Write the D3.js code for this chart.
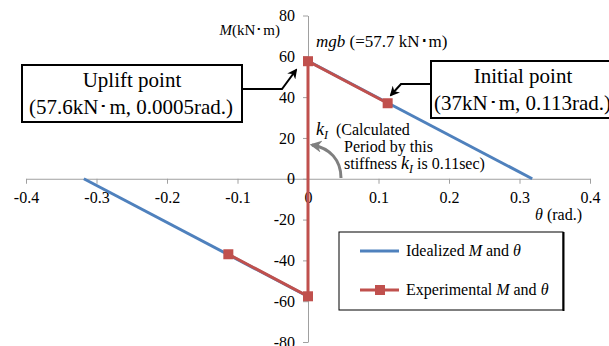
<html>
<head>
	<meta charset="UTF-8">
	<title>M - theta</title>
</head>
<body style="margin:0">
	<script src="https://cdnjs.cloudflare.com/ajax/libs/d3/7.8.5/d3.min.js"></script>
	<script>
		// data
		var xTicks = [-0.4, -0.3, -0.2, -0.1, 0, 0.1, 0.2, 0.3, 0.4];
		var yTicks = [-80, -60, -40, -20, 0, 20, 40, 60, 80];
		var idealTheta = [-0.318, 0, 0, 0.318];
		var idealM = [0, -57.7, 57.7, 0];
		var expTheta = [-0.113, 0, 0, 0.113];
		var expM = [-37, -57.6, 57.6, 37];

		var width = 609, height = 346;
		var FONT = "Liberation Serif";

		var x = d3.scaleLinear().domain([-0.4, 0.4]).range([26, 590]);
		var y = d3.scaleLinear().domain([-80, 80]).range([342, 15.5]);

		var svg = d3.select("body").append("svg")
			.attr("width", width)
			.attr("height", height);

		var defs = svg.append("defs");
		defs.append("marker")
			.attr("id", "blackHead")
			.attr("viewBox", "0 0 10 10")
			.attr("refX", 8).attr("refY", 5)
			.attr("markerWidth", 5).attr("markerHeight", 5)
			.attr("orient", "auto")
			.append("path")
				.attr("d", "M0,0 L10,5 L0,10 L3,5 Z")
				.attr("fill", "#000");
		defs.append("marker")
			.attr("id", "grayHead")
			.attr("viewBox", "0 0 10 10")
			.attr("refX", 8).attr("refY", 5)
			.attr("markerWidth", 4).attr("markerHeight", 4)
			.attr("orient", "auto")
			.append("path")
				.attr("d", "M0,0 L10,5 L0,10 L3,5 Z")
				.attr("fill", "#7f7f7f");

		function fmt(d) { return String(d); }	// plain hyphen minus like the original

		// axes crossing at zero
		var xAxis = svg.append("g")
			.attr("transform", "translate(0," + y(0) + ")")
			.call(d3.axisBottom(x).tickValues(xTicks).tickSize(5).tickSizeOuter(0).tickFormat(fmt));
		xAxis.select(".domain").attr("stroke", "#a0a0a0");
		xAxis.selectAll(".tick line").attr("stroke", "#a0a0a0");
		xAxis.selectAll(".tick text").attr("y", 13);

		var yAxis = svg.append("g")
			.attr("transform", "translate(" + x(0) + ",0)")
			.call(d3.axisLeft(y).tickValues(yTicks).tickSize(5).tickSizeOuter(0).tickFormat(fmt));
		yAxis.select(".domain").attr("stroke", "#a0a0a0");
		yAxis.selectAll(".tick line").attr("stroke", "#a0a0a0");
		yAxis.selectAll(".tick text").attr("x", -13);
		svg.selectAll(".tick text")
			.attr("font-family", FONT).attr("font-size", 16).attr("fill", "#000");

		// series
		var ideal = idealTheta.map(function(t, i) { return [t, idealM[i]]; });
		var exp = expTheta.map(function(t, i) { return [t, expM[i]]; });
		var line = d3.line().x(function(d) { return x(d[0]); }).y(function(d) { return y(d[1]); });

		svg.append("path").datum(ideal.slice(0, 2))
			.attr("d", line).attr("fill", "none").attr("stroke", "#4f81bd").attr("stroke-width", 3);
		svg.append("path").datum(ideal.slice(2))
			.attr("d", line).attr("fill", "none").attr("stroke", "#4f81bd").attr("stroke-width", 3);

		svg.append("path").datum(exp)
			.attr("d", line).attr("fill", "none").attr("stroke", "#c0504d").attr("stroke-width", 3);
		svg.selectAll(".mk").data(exp).enter().append("rect")
			.attr("class", "mk")
			.attr("x", function(d) { return x(d[0]) - 5; })
			.attr("y", function(d) { return y(d[1]) - 5; })
			.attr("width", 10).attr("height", 10)
			.attr("fill", "#c0504d");

		function txt(px, py, size) {
			return svg.append("text").attr("x", px).attr("y", py)
				.attr("font-family", FONT).attr("font-size", size).attr("fill", "#000");
		}

		// axis titles
		var mt = txt(280, 35, 15).attr("text-anchor", "end");
		mt.append("tspan").attr("font-style", "italic").text("M");
		mt.append("tspan").text("(kN･m)");

		var tt = txt(582, 220, 16).attr("text-anchor", "end");
		tt.append("tspan").attr("font-style", "italic").text("θ");
		tt.append("tspan").text(" (rad.)");

		var mg = txt(316, 47, 17);
		mg.append("tspan").attr("font-style", "italic").text("mgb");
		mg.append("tspan").text(" (=57.7 kN･m)");

		// uplift box
		svg.append("path").attr("d", "M242,89 L282,89 L296,70")
			.attr("fill", "none").attr("stroke", "#000").attr("stroke-width", 2)
			.attr("marker-end", "url(#blackHead)");
		svg.append("rect").attr("x", 22).attr("y", 65).attr("width", 220).attr("height", 57)
			.attr("fill", "#fff").attr("stroke", "#000").attr("stroke-width", 2);
		txt(132, 87, 21).attr("text-anchor", "middle").text("Uplift point");
		txt(131, 114, 21).attr("text-anchor", "middle").text("(57.6kN･m, 0.0005rad.)");

		// initial box
		svg.append("path").attr("d", "M431,84 L401,84 L391,95")
			.attr("fill", "none").attr("stroke", "#000").attr("stroke-width", 2)
			.attr("marker-end", "url(#blackHead)");
		svg.append("rect").attr("x", 431).attr("y", 61).attr("width", 190).attr("height", 57)
			.attr("fill", "#fff").attr("stroke", "#000").attr("stroke-width", 2);
		txt(523, 83, 21).attr("text-anchor", "middle").text("Initial point");
		txt(434, 110, 21).text("(37kN･m, 0.113rad.)");

		// k_I note
		svg.append("path").attr("d", "M341,178 C341,160 330,148 312,145")
			.attr("fill", "none").attr("stroke", "#7f7f7f").attr("stroke-width", 3)
			.attr("marker-end", "url(#grayHead)");
		var k1 = txt(316, 135, 18);
		k1.append("tspan").attr("font-style", "italic").text("k");
		k1.append("tspan").attr("font-style", "italic").attr("font-size", 12).attr("dy", 4).text("I");
		txt(336, 135, 16).text("(Calculated");
		txt(344, 152, 16).text("Period by this");
		var st = txt(344, 169, 16);
		st.append("tspan").text("stiffness ");
		st.append("tspan").attr("font-style", "italic").attr("font-size", 18).text("k");
		st.append("tspan").attr("font-style", "italic").attr("font-size", 12).attr("dy", 4).text("I");
		st.append("tspan").attr("dy", -4).text(" is 0.11sec)");

		// legend
		var lg = svg.append("g");
		lg.append("rect").attr("x", 339).attr("y", 232).attr("width", 224).attr("height", 78)
			.attr("fill", "#fff").attr("stroke", "#000").attr("stroke-width", 1);
		lg.append("line").attr("x1", 563.5).attr("x2", 563.5).attr("y1", 232).attr("y2", 311)
			.attr("stroke", "#000").attr("stroke-width", 2);
		lg.append("line").attr("x1", 360).attr("x2", 399).attr("y1", 251).attr("y2", 251)
			.attr("stroke", "#4f81bd").attr("stroke-width", 3);
		lg.append("line").attr("x1", 360).attr("x2", 399).attr("y1", 290).attr("y2", 290)
			.attr("stroke", "#c0504d").attr("stroke-width", 3);
		lg.append("rect").attr("x", 375).attr("y", 285).attr("width", 10).attr("height", 10)
			.attr("fill", "#c0504d");
		var l1 = txt(406, 256, 16);
		l1.append("tspan").text("Idealized ");
		l1.append("tspan").attr("font-style", "italic").text("M");
		l1.append("tspan").text(" and ");
		l1.append("tspan").attr("font-style", "italic").text("θ");
		var l2 = txt(406, 295, 16);
		l2.append("tspan").text("Experimental ");
		l2.append("tspan").attr("font-style", "italic").text("M");
		l2.append("tspan").text(" and ");
		l2.append("tspan").attr("font-style", "italic").text("θ");
	</script>
</body>
</html>
